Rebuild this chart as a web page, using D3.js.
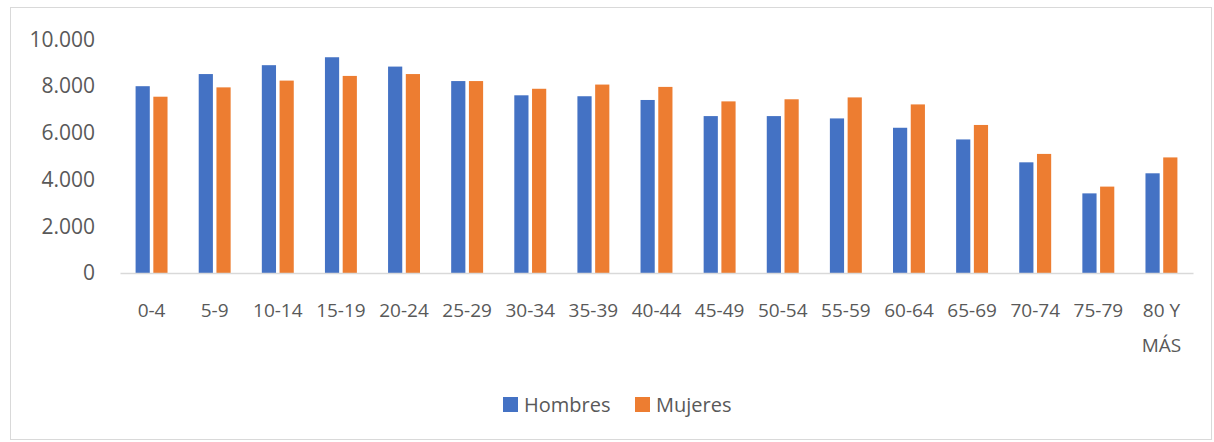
<!DOCTYPE html>
<html>
<head>
<meta charset="utf-8">
<script src="https://cdn.jsdelivr.net/npm/d3@7"></script>
<style>
  html, body { margin: 0; padding: 0; background: #fff; }
  svg { display: block; font-family: "Open Sans", "Noto Sans", sans-serif; }
</style>
</head>
<body>
<svg id="chart" width="1214" height="442"></svg>
<script>
// ---- data ----
const categories = ["0-4","5-9","10-14","15-19","20-24","25-29","30-34","35-39","40-44","45-49","50-54","55-59","60-64","65-69","70-74","75-79","80 Y\nMÁS"];
const seriesNames = ["Hombres","Mujeres"];
const hombres = [8000, 8520, 8900, 9240, 8840, 8220, 7610, 7570, 7410, 6720, 6720, 6620, 6220, 5720, 4740, 3410, 4270];
const mujeres = [7550, 7950, 8240, 8440, 8520, 8220, 7890, 8070, 7970, 7350, 7440, 7520, 7220, 6340, 5100, 3700, 4950];
const yTicks = [0, 2000, 4000, 6000, 8000, 10000];
const seriesColors = ["#4472C4", "#ED7D31"];

// ---- layout ----
const W = 1214, H = 442;
const plot = { left: 120, right: 1193, top: 39.5, bottom: 273 };
const textColor = "#595959";
const gridColor = "#d9d9d9";

const svg = d3.select("#chart");

// chart border
svg.append("rect")
  .attr("x", 10.5).attr("y", 7.5)
  .attr("width", 1201).attr("height", 432)
  .attr("fill", "#fff").attr("stroke", gridColor).attr("stroke-width", 1);

const y = d3.scaleLinear().domain([0, 10000]).range([plot.bottom, plot.top]);
const x0 = d3.scaleBand().domain(categories).range([plot.left, plot.right])
  .paddingInner(0.494).paddingOuter(0.247);
const x1 = d3.scaleBand().domain(seriesNames).range([0, x0.bandwidth()]).paddingInner(0.2);
const color = d3.scaleOrdinal().domain(seriesNames).range(seriesColors);

const fmt = v => d3.format(",")(v).replace(/,/g, ".");

// y axis (labels only)
const yAxis = svg.append("g")
  .attr("transform", `translate(95,0)`)
  .call(d3.axisLeft(y).tickValues(yTicks).tickSize(0).tickPadding(0).tickFormat(fmt));
yAxis.select(".domain").remove();
yAxis.selectAll("text")
  .attr("fill", textColor)
  .style("font-size", "21px")
  .style("font-family", "'Open Sans', sans-serif");

// bars
const rows = categories.map((c, i) => ({ cat: c, values: [
  { name: seriesNames[0], v: hombres[i] },
  { name: seriesNames[1], v: mujeres[i] }
]}));

const groups = svg.append("g").selectAll("g").data(rows).join("g")
  .attr("transform", d => `translate(${x0(d.cat)},0)`);
groups.selectAll("rect").data(d => d.values).join("rect")
  .attr("x", d => x1(d.name))
  .attr("width", x1.bandwidth())
  .attr("y", d => y(d.v))
  .attr("height", d => y(0) - y(d.v))
  .attr("fill", d => color(d.name));

// x axis
const xAxis = svg.append("g")
  .attr("transform", `translate(0,${plot.bottom})`)
  .call(d3.axisBottom(x0).tickSize(0).tickSizeOuter(0).tickFormat(""));
xAxis.select(".domain").attr("stroke", gridColor).attr("stroke-width", 1.5);
xAxis.selectAll(".tick text").remove();
xAxis.selectAll(".tick").each(function(d) {
  const lines = d.split("\n");
  const t = d3.select(this).append("text")
    .attr("fill", textColor)
    .attr("text-anchor", "middle")
    .style("font-size", "19px")
    .style("font-family", "'Open Sans', sans-serif");
  lines.forEach((ln, k) => {
    t.append("tspan").attr("x", 0).attr("y", 44 + k * 35).text(ln);
  });
});

// legend
const legend = svg.append("g");
const legendItems = [
  { name: seriesNames[0], x: 503 },
  { name: seriesNames[1], x: 635 }
];
const li = legend.selectAll("g").data(legendItems).join("g")
  .attr("transform", d => `translate(${d.x},397)`);
li.append("rect").attr("width", 15).attr("height", 15).attr("fill", d => color(d.name));
li.append("text")
  .attr("x", 21).attr("y", 14.5)
  .attr("fill", textColor)
  .style("font-size", "20px")
  .style("font-family", "'Open Sans', sans-serif")
  .text(d => d.name);
</script>
</body>
</html>
